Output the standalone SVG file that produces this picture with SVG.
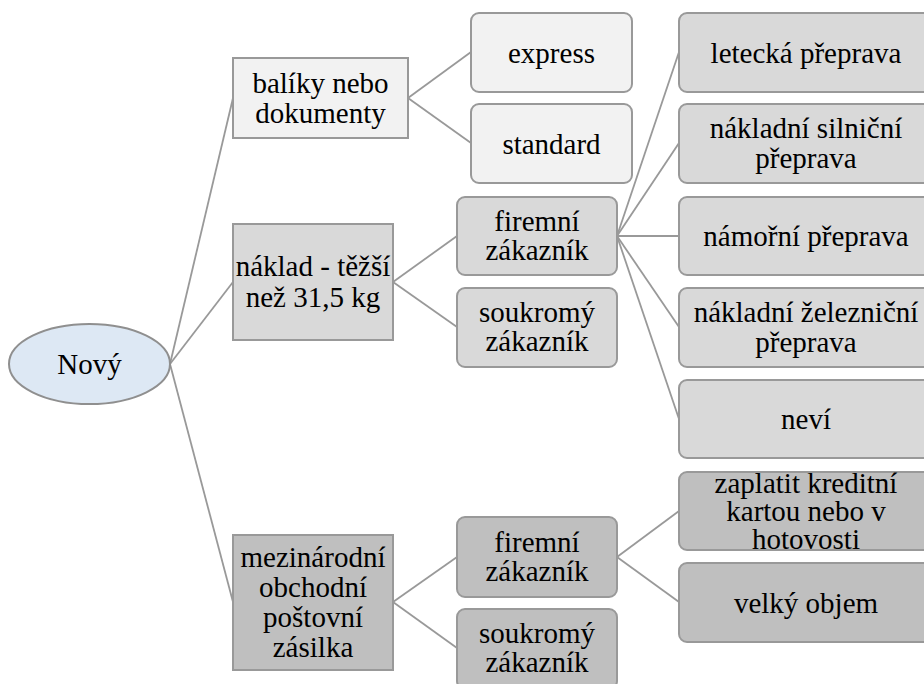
<svg xmlns="http://www.w3.org/2000/svg" width="924" height="684" viewBox="0 0 924 684" font-family="'Liberation Serif', 'DejaVu Serif', serif">
<style>
text{font-family:'Liberation Serif','DejaVu Serif',serif;font-size:29px;fill:#000;text-anchor:middle}
.b{stroke:#999;stroke-width:2}
.l1{fill:#f2f2f2}.l2{fill:#d9d9d9}.l3{fill:#bfbfbf}
.c line{stroke:#999;stroke-width:1.8}
</style>
<rect width="924" height="684" fill="#fff"/>
<g class="c" id="connectors">
<line x1="170" y1="364" x2="233" y2="98"/>
<line x1="170" y1="364" x2="233" y2="282"/>
<line x1="170" y1="364" x2="233" y2="602"/>
<line x1="408" y1="98" x2="471" y2="52"/>
<line x1="408" y1="98" x2="471" y2="143"/>
<line x1="393" y1="282" x2="457" y2="236"/>
<line x1="393" y1="282" x2="457" y2="327"/>
<line x1="617" y1="236" x2="679" y2="52"/>
<line x1="617" y1="236" x2="679" y2="143"/>
<line x1="617" y1="236" x2="679" y2="236"/>
<line x1="617" y1="236" x2="679" y2="327"/>
<line x1="617" y1="236" x2="679" y2="419"/>
<line x1="393" y1="602" x2="457" y2="557"/>
<line x1="393" y1="602" x2="457" y2="648"/>
<line x1="617" y1="557" x2="679" y2="511"/>
<line x1="617" y1="557" x2="679" y2="602"/>
</g>
<g id="novy"><ellipse cx="89.5" cy="364" rx="80.5" ry="40" fill="#dde8f4" stroke="#8f8f8f" stroke-width="2"/><text x="89.5" y="374">Nový</text></g>
<g id="baliky"><rect class="b l1" x="233" y="58" width="175" height="80"/><text x="320.5" y="93">balíky nebo</text><text x="320.5" y="123">dokumenty</text></g>
<g id="naklad"><rect class="b l2" x="233" y="224" width="160" height="116"/><text x="313" y="276">náklad - těžší</text><text x="313" y="307">než 31,5 kg</text></g>
<g id="mezinarodni"><rect class="b l3" x="233" y="535" width="160" height="135"/><text x="313" y="567">mezinárodní</text><text x="313" y="597">obchodní</text><text x="313" y="627">poštovní</text><text x="313" y="657">zásilka</text></g>
<g id="express"><rect class="b l1" x="471" y="13" width="161" height="79" rx="8"/><text x="551.5" y="63">express</text></g>
<g id="standard"><rect class="b l1" x="471" y="104" width="161" height="79" rx="8"/><text x="551.5" y="154">standard</text></g>
<g id="firemni1"><rect class="b l2" x="457" y="197" width="160" height="78" rx="8"/><text x="537" y="231">firemní</text><text x="537" y="260">zákazník</text></g>
<g id="soukromy1"><rect class="b l2" x="457" y="288" width="160" height="79" rx="8"/><text x="537" y="322">soukromý</text><text x="537" y="351">zákazník</text></g>
<g id="letecka"><rect class="b l2" x="679" y="13" width="260" height="79" rx="8"/><text x="806" y="63">letecká přeprava</text></g>
<g id="silnicni"><rect class="b l2" x="679" y="104" width="260" height="79" rx="8"/><text x="806" y="138">nákladní silniční</text><text x="806" y="168">přeprava</text></g>
<g id="namorni"><rect class="b l2" x="679" y="197" width="260" height="78" rx="8"/><text x="806" y="246">námořní přeprava</text></g>
<g id="zeleznicni"><rect class="b l2" x="679" y="288" width="260" height="79" rx="8"/><text x="806" y="322">nákladní železniční</text><text x="806" y="352">přeprava</text></g>
<g id="nevi"><rect class="b l2" x="679" y="380" width="260" height="78" rx="8"/><text x="806" y="429">neví</text></g>
<g id="firemni2"><rect class="b l3" x="457" y="517" width="160" height="80" rx="8"/><text x="537" y="552">firemní</text><text x="537" y="581">zákazník</text></g>
<g id="soukromy2"><rect class="b l3" x="457" y="609" width="160" height="80" rx="8"/><text x="537" y="643">soukromý</text><text x="537" y="672">zákazník</text></g>
<g id="zaplatit"><rect class="b l3" x="679" y="472" width="260" height="78" rx="8"/><text x="806" y="493">zaplatit kreditní</text><text x="806" y="521">kartou nebo v</text><text x="806" y="549">hotovosti</text></g>
<g id="velky"><rect class="b l3" x="679" y="563" width="260" height="79" rx="8"/><text x="806" y="613">velký objem</text></g>
</svg>
